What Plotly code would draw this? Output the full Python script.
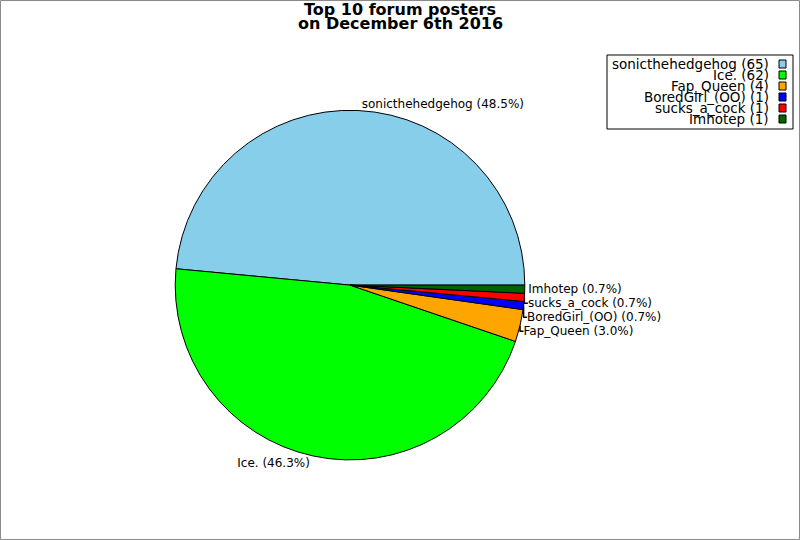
import plotly.graph_objects as go

names = ["sonicthehedgehog", "Ice.", "Fap_Queen", "BoredGirl_(OO)", "sucks_a_cock", "Imhotep"]
posts = [65, 62, 4, 1, 1, 1]
colors = ["#87ceeb", "#00ff00", "#ffa500", "#0000ff", "#ff0000", "#006400"]
title_lines = ["Top 10 forum posters", "on December 6th 2016"]

# plotly anchors the end of the first slice at `rotation` when going counterclockwise,
# so shift it to make the first slice start at 3 o'clock
first_angle = 360 * posts[0] / sum(posts)
rot = (90 - first_angle) % 360

fig = go.Figure()
fig.add_trace(go.Pie(
    labels=names,
    values=posts,
    sort=False,
    direction="counterclockwise",
    rotation=rot,
    marker=dict(colors=colors, line=dict(color="black", width=1)),
    texttemplate="%{label} (%{percent:.1%})",
    textposition="outside",
    textfont=dict(family="DejaVu Sans", size=12, color="black"),
    domain=dict(x=[0.219, 0.656], y=[0.148, 0.796]),
    showlegend=False,
))

# title: two tight lines
for i, line in enumerate(title_lines):
    fig.add_annotation(
        xref="paper", yref="paper", x=0.5, y=1 - (10 + i * 14) / 540,
        xanchor="center", yanchor="middle", showarrow=False,
        text=f"<b>{line}</b>", font=dict(family="DejaVu Sans", size=16, color="black"),
    )

# legend box drawn by hand so the swatches sit right of the text like the original
row_h = 11
top = 64
box_r = 793
for i, (n, v, c) in enumerate(zip(names, posts, colors)):
    yc = top + i * row_h
    fig.add_annotation(
        xref="paper", yref="paper", x=(box_r - 22) / 800, y=1 - yc / 540,
        xanchor="right", yanchor="middle", showarrow=False,
        text=f"{n} ({v})", font=dict(family="DejaVu Sans", size=13.5, color="black"),
    )
    fig.add_shape(
        type="rect", xref="paper", yref="paper",
        x0=(box_r - 14) / 800, x1=(box_r - 7) / 800,
        y0=1 - (yc + 4) / 540, y1=1 - (yc - 4) / 540,
        fillcolor=c, line=dict(color="black", width=1),
    )

fig.add_shape(type="rect", xref="paper", yref="paper",
              x0=607 / 800, x1=box_r / 800, y0=1 - 129 / 540, y1=1 - 55 / 540,
              line=dict(color="black", width=1), layer="below")
fig.add_shape(type="rect", xref="paper", yref="paper", x0=0.0006, x1=0.9994, y0=0.001, y1=0.999,
              line=dict(color="#888888", width=1))

fig.update_layout(
    width=800,
    height=540,
    margin=dict(l=0, r=0, t=0, b=0),
    paper_bgcolor="white",
    font=dict(family="DejaVu Sans", size=12, color="black"),
)

fig.write_html("out.html", config={"displayModeBar": False},
               post_script="document.body.style.margin='0';")
